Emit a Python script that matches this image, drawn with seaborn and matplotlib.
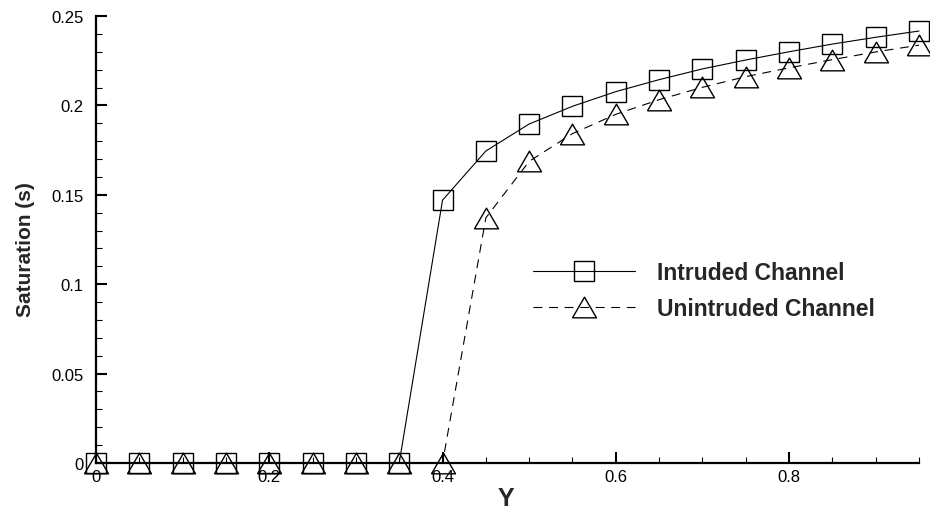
import matplotlib
matplotlib.use("Agg")
import matplotlib.pyplot as plt
from matplotlib.ticker import MultipleLocator, FuncFormatter
import pandas as pd
import seaborn as sns

# Sampling positions along the channel (Y) and saturation values
y_pos = [0.00, 0.05, 0.10, 0.15, 0.20, 0.25, 0.30, 0.35, 0.40, 0.45,
         0.50, 0.55, 0.60, 0.65, 0.70, 0.75, 0.80, 0.85, 0.90, 0.95]
sat_intruded = [0.0, 0.0, 0.0, 0.0, 0.0, 0.0, 0.0, 0.0, 0.147, 0.1745,
                0.1896, 0.1995, 0.2077, 0.2144, 0.2204, 0.2254, 0.2300, 0.2343, 0.2381, 0.2416]
sat_unintruded = [0.0, 0.0, 0.0, 0.0, 0.0, 0.0, 0.0, 0.0, 0.0, 0.1371,
                  0.1687, 0.1842, 0.1950, 0.2032, 0.2101, 0.2161, 0.2210, 0.2256, 0.2299, 0.2337]
series_labels = ["Intruded Channel", "Unintruded Channel"]

df_a = pd.DataFrame({"Y": y_pos, "s": sat_intruded})
df_b = pd.DataFrame({"Y": y_pos, "s": sat_unintruded})

sns.set_style("ticks")
plt.rcParams["font.family"] = ["Liberation Sans", "DejaVu Sans"]

fig = plt.figure(figsize=(9.3, 5.1), dpi=100)
ax = fig.add_axes([96 / 930, 1 - 464 / 510, (919 - 96) / 930, (464 - 17) / 510])

# open triangle, slightly flatter than it is wide
tri = [(-1.0, -0.86), (1.0, -0.86), (0.0, 0.86), (-1.0, -0.86)]

sns.lineplot(data=df_a, x="Y", y="s", ax=ax, estimator=None, sort=False,
             color="black", linewidth=0.8, marker="s", markersize=14.2,
             markerfacecolor="none", markeredgecolor="black", markeredgewidth=1.0,
             label=series_labels[0], clip_on=False, zorder=4)
sns.lineplot(data=df_b, x="Y", y="s", ax=ax, estimator=None, sort=False,
             color="black", linewidth=0.8, linestyle=(0, (8, 6)),
             marker=tri, markersize=17.3,
             markerfacecolor="none", markeredgecolor="black", markeredgewidth=1.0,
             label=series_labels[1], clip_on=False, zorder=5)

ax.set_xlim(0, 0.95)
ax.set_ylim(0, 0.25)
ax.xaxis.set_major_locator(MultipleLocator(0.2))
ax.xaxis.set_minor_locator(MultipleLocator(0.05))
ax.yaxis.set_major_locator(MultipleLocator(0.05))
ax.yaxis.set_minor_locator(MultipleLocator(0.01))
ax.xaxis.set_major_formatter(FuncFormatter(lambda v, p: f"{v:g}"))
ax.yaxis.set_major_formatter(FuncFormatter(lambda v, p: f"{v:g}"))

for side in ("top", "right"):
    ax.spines[side].set_visible(False)
for side in ("left", "bottom"):
    ax.spines[side].set_linewidth(1.6)
    ax.spines[side].set_color("black")
    ax.spines[side].set_zorder(3)

ax.tick_params(which="major", direction="in", length=8, width=1.5, color="black",
               labelsize=12, labelcolor="black")
ax.tick_params(which="minor", direction="in", length=4.5, width=0.8, color="black")
ax.tick_params(axis="y", which="major", pad=9)
ax.tick_params(axis="x", which="major", pad=4.5)

ax.set_xlabel("Y", fontsize=18, fontweight="bold")
ax.set_ylabel("Saturation (s)", fontsize=15, fontweight="bold")
ax.xaxis.set_label_coords(0.498, -0.0515)
ax.yaxis.set_label_coords(-0.0745, 0.479)

leg = ax.legend(loc="center left", bbox_to_anchor=(533 / 930, 1 - 291.5 / 510),
                bbox_transform=fig.transFigure, frameon=False, borderpad=0,
                borderaxespad=0, handlelength=4.43, handletextpad=0.97,
                labelspacing=0.57, numpoints=1,
                prop={"size": 16.5, "weight": "bold"})

ax.set_facecolor("white")
fig.patch.set_facecolor("white")
fig.savefig("out.png", dpi=100, facecolor="white")
